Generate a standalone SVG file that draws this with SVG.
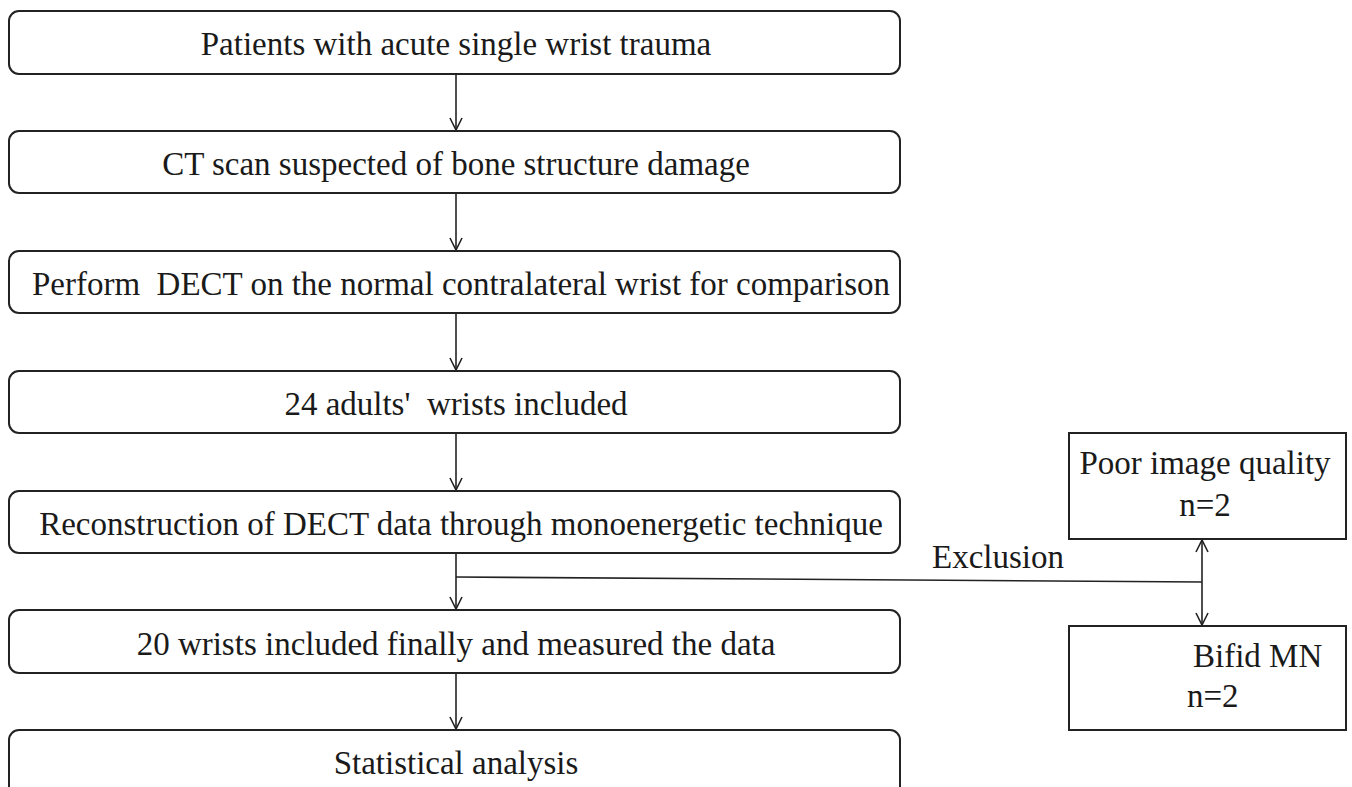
<svg xmlns="http://www.w3.org/2000/svg" width="1352" height="787" viewBox="0 0 1352 787">
<style>
.box{fill:#fff;stroke:#222;stroke-width:2}
.t{font-family:"Liberation Serif","Times New Roman",Times,"DejaVu Serif",serif;font-size:33px;fill:#1a1a1a}
.c{text-anchor:middle}
.ln{stroke:#222;stroke-width:1.6;fill:none}
</style>
<defs>
<marker id="ah" viewBox="0 0 14 14" refX="13" refY="7" markerWidth="14" markerHeight="14" markerUnits="userSpaceOnUse" orient="auto-start-reverse">
<path d="M1,1 L13,7 L1,13" fill="none" stroke="#222" stroke-width="1.6"/>
</marker>
</defs>
<rect width="1352" height="787" fill="#fff"/>
<g id="connectors">
<line class="ln" x1="456" y1="74" x2="456" y2="130" marker-end="url(#ah)"/>
<line class="ln" x1="456" y1="193" x2="456" y2="250" marker-end="url(#ah)"/>
<line class="ln" x1="456" y1="313" x2="456" y2="370" marker-end="url(#ah)"/>
<line class="ln" x1="456" y1="433" x2="456" y2="490" marker-end="url(#ah)"/>
<line class="ln" x1="456" y1="553" x2="456" y2="609" marker-end="url(#ah)"/>
<line class="ln" x1="456" y1="673" x2="456" y2="729" marker-end="url(#ah)"/>
<polyline class="ln" points="456,577 1202,582"/>
<line class="ln" x1="1202" y1="582" x2="1202" y2="540" marker-end="url(#ah)"/>
<line class="ln" x1="1202" y1="582" x2="1202" y2="625" marker-end="url(#ah)"/>
<text class="t" x="932" y="568">Exclusion</text>
</g>
<g id="n1"><rect class="box" x="9" y="11" width="891" height="63" rx="10"/><text class="t c" x="456" y="55">Patients with acute single wrist trauma</text></g>
<g id="n2"><rect class="box" x="9" y="131" width="891" height="62" rx="10"/><text class="t c" x="456" y="175">CT scan suspected of bone structure damage</text></g>
<g id="n3"><rect class="box" x="9" y="251" width="891" height="62" rx="10"/><text class="t c" x="461" y="295" xml:space="preserve">Perform  DECT on the normal contralateral wrist for comparison</text></g>
<g id="n4"><rect class="box" x="9" y="371" width="891" height="62" rx="10"/><text class="t c" x="456" y="415" xml:space="preserve">24 adults'  wrists included</text></g>
<g id="n5"><rect class="box" x="9" y="491" width="891" height="62" rx="10"/><text class="t c" x="461" y="535">Reconstruction of DECT data through monoenergetic technique</text></g>
<g id="n6"><rect class="box" x="9" y="610" width="891" height="63" rx="10"/><text class="t c" x="456" y="655">20 wrists included finally and measured the data</text></g>
<g id="n7"><rect class="box" x="9" y="730" width="891" height="70" rx="10"/><text class="t c" x="456" y="774">Statistical analysis</text></g>
<g id="n8"><rect class="box" x="1069" y="433" width="277" height="106"/><text class="t c" x="1205" y="474">Poor image quality</text><text class="t c" x="1205" y="516">n=2</text></g>
<g id="n9"><rect class="box" x="1069" y="626" width="277" height="104"/><text class="t" x="1193" y="667">Bifid MN</text><text class="t" x="1187" y="707">n=2</text></g>
</svg>
